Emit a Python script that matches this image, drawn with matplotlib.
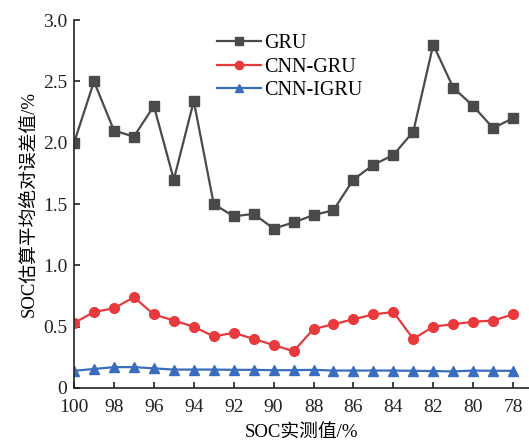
import matplotlib
matplotlib.use("Agg")
import matplotlib.pyplot as plt

plt.rcParams['font.family'] = ['Liberation Serif', 'Noto Sans CJK SC']

soc = list(range(100, 77, -1))
gru = [2.00, 2.50, 2.10, 2.05, 2.30, 1.70, 2.34, 1.50, 1.40, 1.42, 1.30, 1.35,
       1.41, 1.45, 1.70, 1.82, 1.90, 2.09, 2.80, 2.45, 2.30, 2.12, 2.20]
cnn_gru = [0.53, 0.62, 0.65, 0.74, 0.60, 0.55, 0.50, 0.42, 0.45, 0.40, 0.35, 0.30,
           0.48, 0.52, 0.56, 0.60, 0.62, 0.40, 0.50, 0.52, 0.54, 0.55, 0.60]
cnn_igru = [0.14, 0.155, 0.17, 0.17, 0.16, 0.15, 0.15, 0.15, 0.148, 0.148, 0.145, 0.145,
            0.148, 0.142, 0.142, 0.142, 0.142, 0.14, 0.138, 0.135, 0.142, 0.14, 0.14]
x_ticks = list(range(100, 77, -2))
y_ticks = [0, 0.5, 1.0, 1.5, 2.0, 2.5, 3.0]
y_tick_labels = ['0', '0.5', '1.0', '1.5', '2.0', '2.5', '3.0']

fig = plt.figure(figsize=(5.29, 4.48), dpi=100)
ax = fig.add_axes([0.140, 0.134, 0.860, 0.821])

ax.plot(soc, gru, color='#4a4a4a', lw=1.6, marker='s', ms=6.5, mfc='#4a4a4a',
        mec='#4a4a4a', label='GRU')
ax.plot(soc, cnn_gru, color='#e83a3c', lw=1.6, marker='o', ms=7, mfc='#e83a3c',
        mec='#e83a3c', label='CNN-GRU')
ax.plot(soc, cnn_igru, color='#3a6dbd', lw=1.6, marker='^', ms=7.5, mfc='#3a6dbd',
        mec='#3a6dbd', label='CNN-IGRU')

ax.set_xlim(100, 77.2)
ax.set_ylim(0, 3.0)
ax.set_xticks(x_ticks)
ax.set_xticklabels([str(v) for v in x_ticks])
ax.set_yticks(y_ticks)
ax.set_yticklabels(y_tick_labels)

for side in ('top', 'right'):
    ax.spines[side].set_visible(False)
for side in ('left', 'bottom'):
    ax.spines[side].set_linewidth(1.2)
    ax.spines[side].set_color('#222222')
ax.tick_params(direction='in', length=4, width=1.2, labelsize=14, colors='#222222')
ax.tick_params(axis='y', pad=5)
ax.tick_params(axis='x', pad=8)

ax.set_xlabel('SOC实测值/%', fontsize=13.5, labelpad=6)
ax.set_ylabel('SOC估算平均绝对误差值/%', fontsize=13.5, labelpad=4)

leg = ax.legend(loc='upper left', bbox_to_anchor=(0.288, 0.995), frameon=False,
                fontsize=14.5, handlelength=2.2, handletextpad=0.15,
                labelspacing=0.22, borderaxespad=0.2, markerscale=0.85)

fig.savefig('out.png', dpi=100)
